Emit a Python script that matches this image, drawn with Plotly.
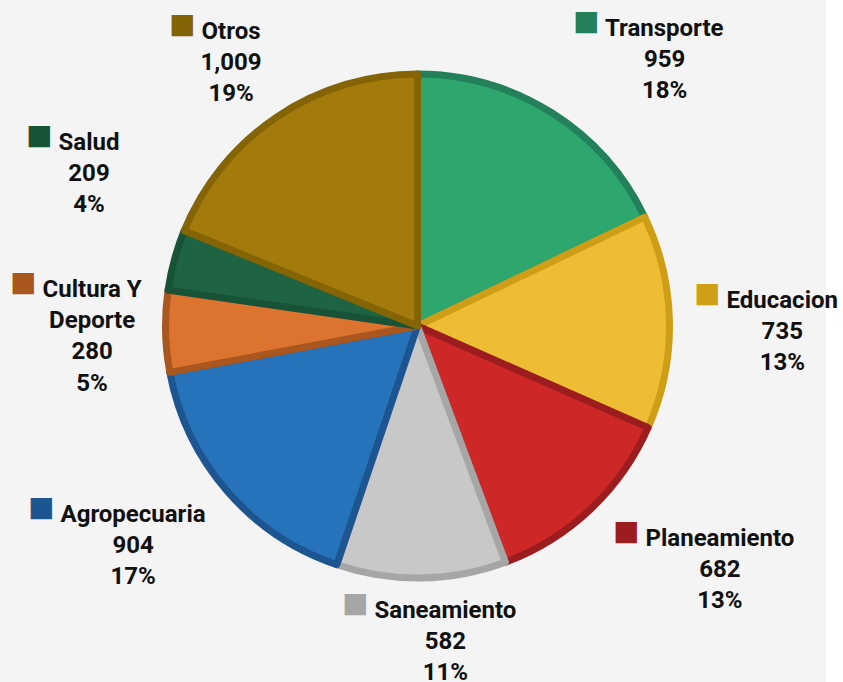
import plotly.graph_objects as go

# Data
categories = ['Transporte', 'Educacion', 'Planeamiento', 'Saneamiento',
              'Agropecuaria', 'Cultura Y Deporte', 'Salud', 'Otros']
values = [959, 735, 682, 582, 904, 280, 209, 1009]
value_labels = ['959', '735', '682', '582', '904', '280', '209', '1,009']
pct_labels = ['18%', '13%', '13%', '11%', '17%', '5%', '4%', '19%']

fill_colors = ['#2ea76f', '#efbd34', '#cd2727', '#c8c8c8',
               '#2773ba', '#dc7430', '#1e6443', '#a37b0c']
edge_colors = ['#23805a', '#cf9e17', '#9b1d1f', '#a6a6a6',
               '#1d5590', '#a9561f', '#175337', '#856406']

W, H = 843, 682
cx, cy, r = 417.5, 326, 252  # pie centre / radius in px

# label block centres in px (layout only)
label_pos = {
    'Transporte': (664, 49),
    'Educacion': (782, 321),
    'Planeamiento': (720, 559),
    'Saneamiento': (446, 631),
    'Agropecuaria': (133, 535),
    'Cultura Y Deporte': (92, 326),
    'Salud': (89, 163),
    'Otros': (231, 52),
}

fig = go.Figure()
fig.add_trace(go.Pie(
    labels=categories,
    values=values,
    sort=False,
    direction='clockwise',
    rotation=0,
    textinfo='none',
    hoverinfo='label+value+percent',
    marker=dict(colors=fill_colors, line=dict(color=edge_colors, width=7)),
    domain=dict(x=[(cx - r) / W, (cx + r) / W],
                y=[1 - (cy + r) / H, 1 - (cy - r) / H]),
    showlegend=False,
))

# labels with coloured square marker
for name, val, pct, sq in zip(categories, value_labels, pct_labels, edge_colors):
    lines = name.replace('Cultura Y ', 'Cultura Y<br>').split('<br>')
    first = (f"<span style='color:{sq};font-size:44px'>■</span> {lines[0]} "
             f"<span style='color:rgba(0,0,0,0);font-size:44px'>■</span>")
    txt = '<br>'.join([first] + lines[1:] + [val, pct])
    x, y = label_pos[name]
    fig.add_annotation(
        x=x / W, y=1 - y / H, xref='paper', yref='paper',
        text=txt, showarrow=False, align='center',
        xanchor='center', yanchor='middle',
        font=dict(family='Roboto', size=24, color='#111111', weight='bold'),
    )

# white strip at the right edge
fig.add_shape(type='rect', xref='paper', yref='paper',
              x0=826 / W, x1=1, y0=0, y1=1,
              fillcolor='white', line_width=0, layer='below')

fig.update_layout(
    width=W, height=H,
    margin=dict(l=0, r=0, t=0, b=0),
    paper_bgcolor='#f4f4f4',
    plot_bgcolor='#f4f4f4',
)

fig.write_html('out.html', config={'displayModeBar': False},
               post_script="document.body.style.margin='0';")
